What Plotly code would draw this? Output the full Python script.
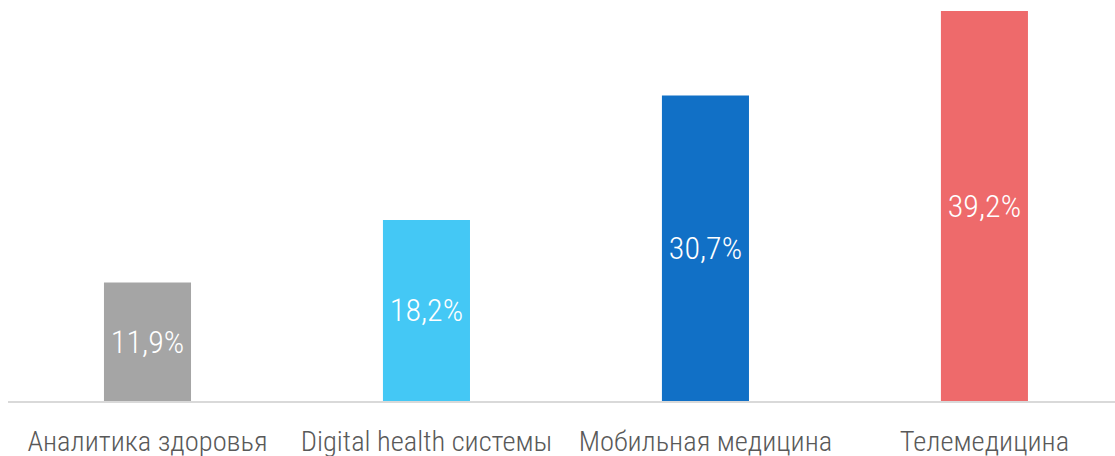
import plotly.graph_objects as go

categories = ["Аналитика здоровья", "Digital health системы", "Мобильная медицина", "Телемедицина"]
values = [11.9, 18.2, 30.7, 39.2]
labels = ["11,9%", "18,2%", "30,7%", "39,2%"]
colors = ["#a5a5a5", "#44c8f5", "#1170c6", "#ee6a6b"]

FONT = "Liberation Sans Narrow, Roboto Condensed, Arial Narrow, sans-serif"

fig = go.Figure(go.Bar(
    x=list(range(len(categories))),
    y=values,
    text=labels,
    textposition="inside",
    insidetextanchor="middle",
    textangle=0,
    textfont=dict(family=FONT, size=32, color="white", weight=300),
    marker=dict(color=colors, line=dict(width=0)),
    width=0.312,
    hoverinfo="skip",
))

fig.update_layout(
    width=1115, height=456,
    margin=dict(l=8, r=0, t=0, b=55, autoexpand=False),
    paper_bgcolor="white", plot_bgcolor="white",
    showlegend=False,
    uniformtext=dict(mode=False),
    xaxis=dict(
        range=[-0.5, 3.468],
        tickmode="array",
        tickvals=list(range(len(categories))),
        ticktext=categories,
        tickfont=dict(family=FONT, size=28.5, color="#595959", weight=300),
        tickangle=0,
        automargin=False,
        showgrid=False, zeroline=False,
        showline=True, linecolor="#d9d9d9", linewidth=2,
        ticks="", ticklabelstandoff=14,
        fixedrange=True,
    ),
    yaxis=dict(
        range=[0, 40.305],
        visible=False,
        automargin=False,
        showgrid=False, zeroline=False,
        fixedrange=True,
    ),
)

fig.write_html("out.html")
